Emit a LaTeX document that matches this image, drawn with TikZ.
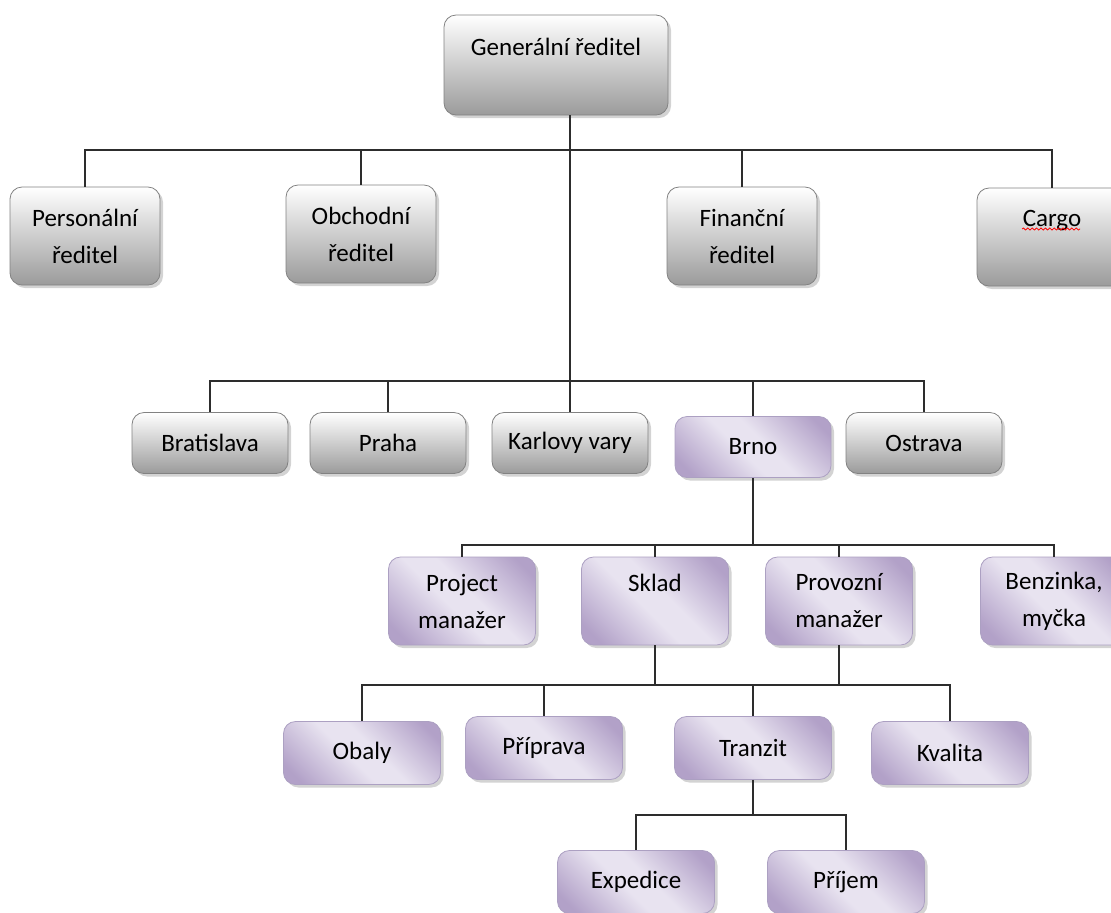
\documentclass[tikz,border=0pt]{standalone}
\usepackage{fontspec}
\setmainfont{Carlito}
\usepackage{tikz}
\usetikzlibrary{calc, shadows}
\usetikzlibrary{decorations.pathmorphing}
\usepackage{color}
\definecolor{lineColor}{RGB}{45, 45, 45}
\definecolor{greyColor}{RGB}{155, 155, 155}
\definecolor{greyLineColor}{RGB}{130, 130, 130}
\definecolor{lilaColor}{RGB}{178, 161, 200}
\definecolor{lilaLightColor}{RGB}{232, 227, 240}
\definecolor{lilaLineColor}{RGB}{172, 160, 194}
\pgfdeclarehorizontalshading{lilaShade}{100bp}{color(0bp)=(lilaColor); color(21bp)=(lilaColor);
  color(45bp)=(lilaLightColor); color(55bp)=(lilaLightColor); color(79bp)=(lilaColor); color(100bp)=(lilaColor)}

\begin{document}
\begin{tikzpicture}[
    x = 0.5pt, y = -0.5pt,
    every node/.style = {font=\fontsize{12.5}{18.5}\selectfont, align=center,
        inner sep=0pt, text=black},
    box/.style = {rounded corners=6pt,
        drop shadow={opacity=.35, shadow xshift=1.5pt, shadow yshift=-1.5pt}},
    greybox/.style = {box, draw=greyLineColor, top color=white, bottom color=greyColor},
    lilabox/.style = {box, draw=lilaLineColor, shading=lilaShade, shading angle=45},
    big/.style = {minimum width=75pt, minimum height=49pt},
    city/.style = {minimum width=78pt, minimum height=30.5pt},
    mid/.style = {minimum width=73.5pt, minimum height=44pt},
    low/.style = {minimum width=78.5pt, minimum height=31.5pt},
    link/.style = {draw=lineColor, line width=0.6pt}
  ]
  \clip (0,0) rectangle (1111,912);

  % vedeni
  \node[greybox, minimum width=112pt, minimum height=50pt] (GEN) at (556,65) {Generální ředitel\\~};
  \foreach \name/\x/\y/\txt in {PERS/85/236/{Personální\\ředitel}, OBCH/361/234/{Obchodní\\ředitel},
      FIN/742/236/{Finanční\\ředitel}, CARGO/1052/237/{Cargo\\~}}
  \node[greybox, big] (\name) at (\x,\y) {\txt};

  % pobocky
  \foreach \name/\x/\txt in {BRAT/210/Bratislava, PRAHA/388/Praha, KV/570/Karlovy vary, OSTR/924/Ostrava}
  \node[greybox, city] (\name) at (\x,443) {\txt};
  \node[lilabox, city] (BRNO) at (753,447) {Brno};

  % Brno
  \foreach \name/\x/\txt in {PROJ/462/{Project\\manažer}, SKLAD/655/{Sklad\\~},
      PROV/839/{Provozní\\manažer}, BENZ/1054/{Benzinka,\\myčka}}
  \node[lilabox, mid] (\name) at (\x,601) {\txt};
  \foreach \name/\x/\y/\txt in {OBALY/362/753/Obaly, PRIP/544/748/Příprava,
      TRANZIT/753/748/Tranzit, KVAL/950/753/Kvalita, EXPED/636/882/Expedice, PRIJEM/846/882/Příjem}
  \node[lilabox, low] (\name) at (\x,\y) {\txt};

  \draw[red, decorate, decoration={snake, amplitude=0.5pt, segment length=2.2pt}]
    ($(CARGO)+(-30,-8)$) -- ($(CARGO)+(28,-8)$);

  % spojnice
  \coordinate (J1) at (570,150);
  \coordinate (J2) at (570,381);
  \draw[link] (GEN.south -| J1) -- (J1 |- KV.north);
  \foreach \n in {PERS, OBCH, FIN, CARGO} \draw[link] (J1) -| (\n);
  \foreach \n in {BRAT, PRAHA, BRNO, OSTR} \draw[link] (J2) -| (\n);

  \coordinate (J3) at (BRNO.south |- 0,545);
  \draw[link] (BRNO) -- (J3);
  \foreach \n in {PROJ, SKLAD, PROV, BENZ} \draw[link] (J3) -| (\n);

  \coordinate (J4) at (SKLAD.south |- 0,685);
  \coordinate (J5) at (PROV.south |- 0,685);
  \draw[link] (SKLAD) -- (J4);
  \draw[link] (PROV) -- (J5);
  \foreach \n in {OBALY, PRIP, TRANZIT, KVAL} \draw[link] (J4) -| (\n);

  \coordinate (J6) at (TRANZIT.south |- 0,815);
  \draw[link] (TRANZIT) -- (J6);
  \foreach \n in {EXPED, PRIJEM} \draw[link] (J6) -| (\n);
\end{tikzpicture}
\end{document}
